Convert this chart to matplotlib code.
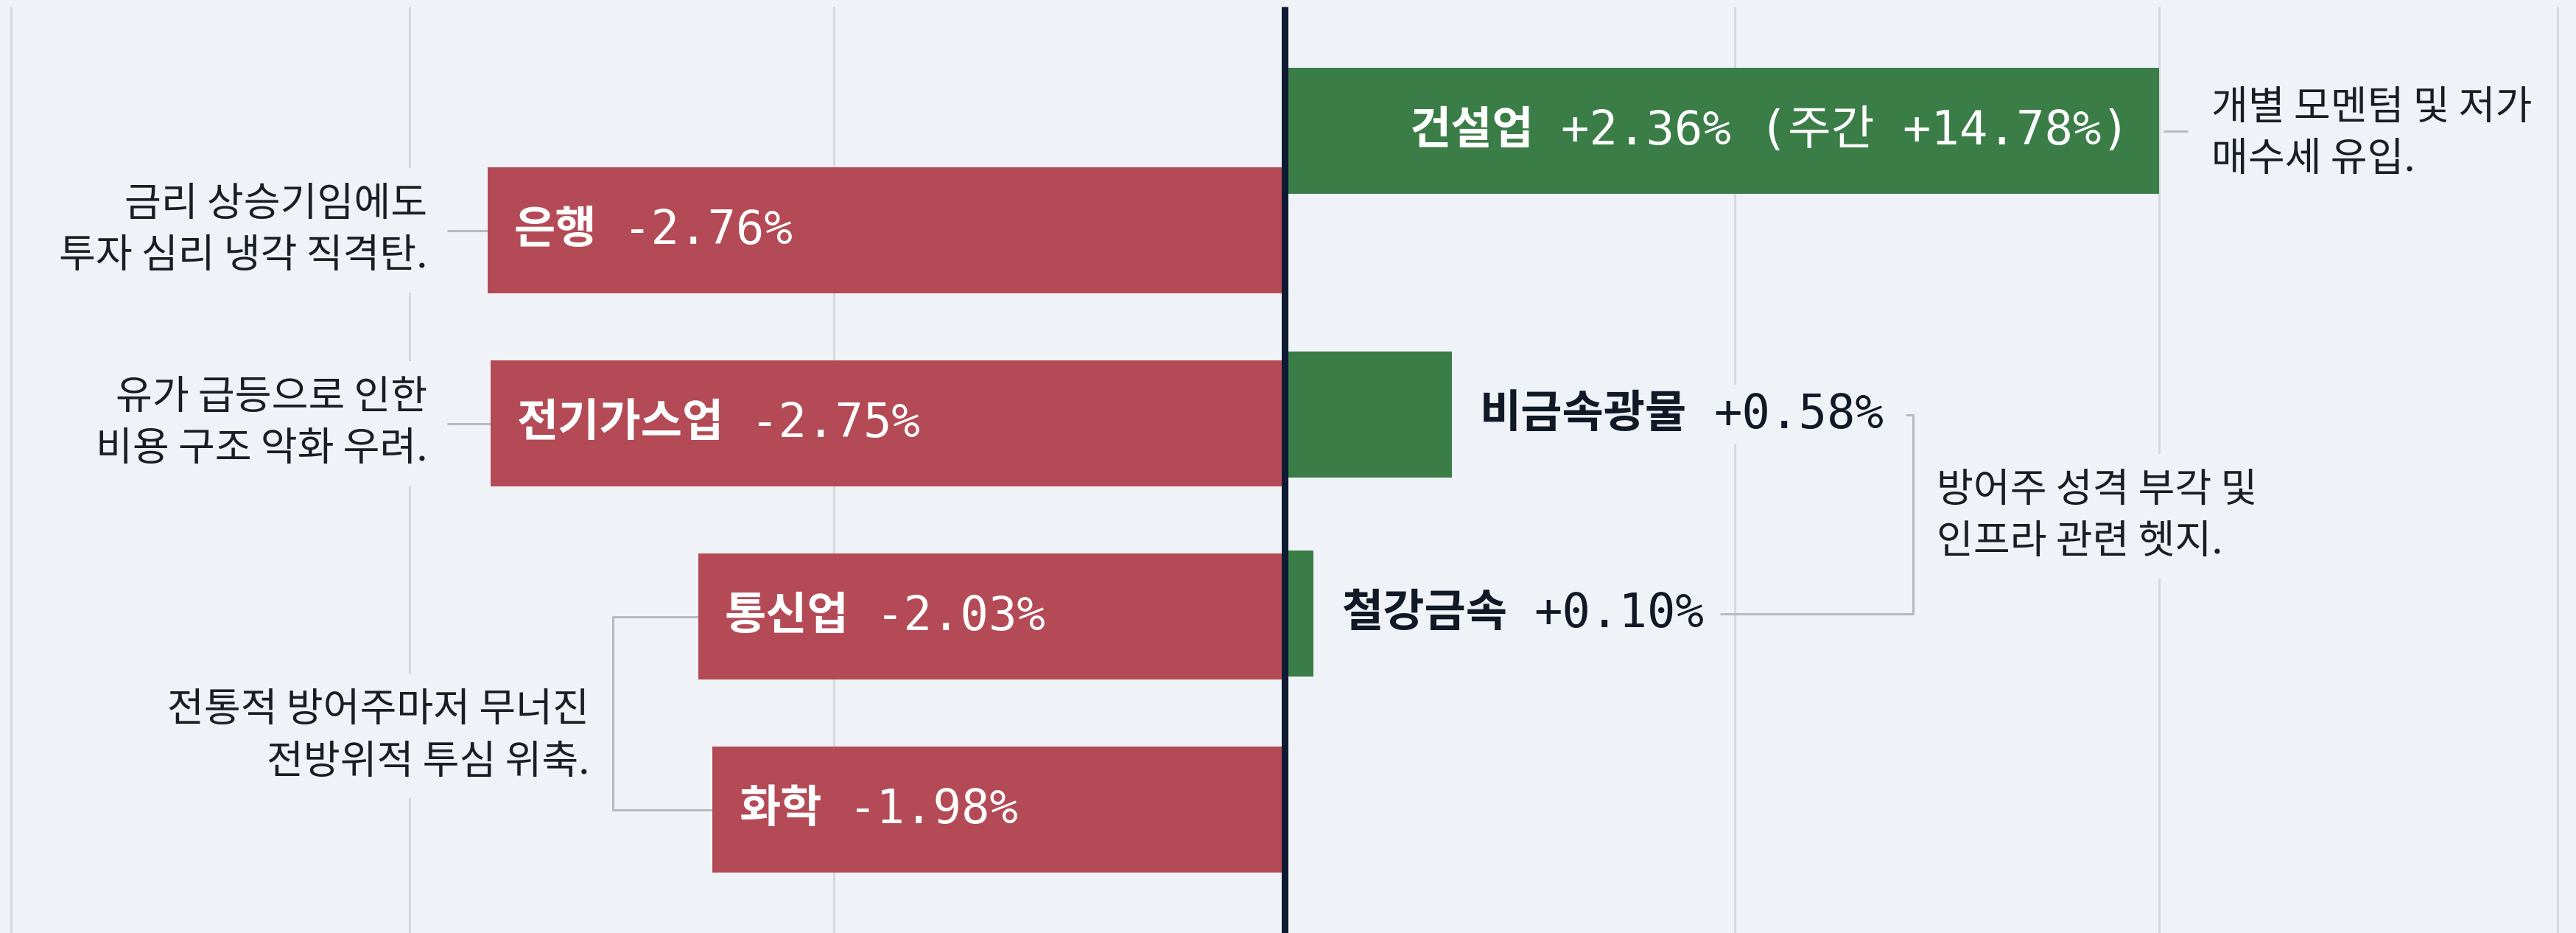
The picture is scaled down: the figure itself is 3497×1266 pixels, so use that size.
import matplotlib.pyplot as plt

# sector moves of the day (%), as printed on the labels
sectors = ['건설업', '은행', '비금속광물', '전기가스업', '철강금속', '통신업', '화학']
changes = [2.36, -2.76, 0.58, -2.75, 0.10, -2.03, -1.98]
extra = ['(주간 +14.78%)', '', '', '', '', '', '']
# bar length as drawn: the 건설업 bar runs out to the 3% grid line to hold its long label
bar_len = [3.03, -2.76, 0.58, -2.75, 0.10, -2.03, -1.98]

notes = ['개별 모멘텀 및 저가\n매수세 유입.',
         '금리 상승기임에도\n투자 심리 냉각 직격탄.',
         '유가 급등으로 인한\n비용 구조 악화 우려.',
         '전통적 방어주마저 무너진\n전방위적 투심 위축.',
         '방어주 성격 부각 및\n인프라 관련 헷지.']

# layout
rows = [-0.515, 0, 0.954, 1.0, 1.985, 2.0, 3.0]
grid_x = [-4.41, -3.03, -1.56, 1.56, 3.03, 4.41]
PX = 1 / 392.0   # data units per pixel

BG = '#eff3f7'
RED = '#b44a55'
GREEN = '#3a7d47'
NAVY = '#0e1b33'
GRID = '#d4d9df'
LEAD = '#b6bbc2'
INK = '#191d25'
KR = ['Noto Sans CJK KR', 'DejaVu Sans']
MONO = ['DejaVu Sans Mono', 'Noto Sans CJK KR']
FS_NAME = 44
FS_NUM = 46
FS_NOTE = 39

fig = plt.figure(figsize=(34.98, 12.66), dpi=100)
fig.patch.set_facecolor(BG)
ax = fig.add_axes([0, 0, 1, 1])
ax.set_facecolor(BG)
ax.set_xlim(-4.448, 4.476)
ax.set_ylim(3.639, -1.193)
ax.axis('off')

ax.vlines(grid_x, -1.16, 3.64, color=GRID, lw=2.2, zorder=0)
colors = [GREEN if v > 0 else RED for v in changes]
ax.barh(rows, bar_len, height=0.653, color=colors, zorder=2)
ax.vlines(0, -1.16, 3.64, color=NAVY, lw=6.5, zorder=5)

# bar labels: bold sector name + mono number
for name, v, ex, L, y in zip(sectors, changes, extra, bar_len, rows):
    num = f'{v:+.2f}%' + (' ' + ex if ex else '')
    if L < 0:
        t = ax.text(L + 36 * PX, y, name, color='white', fontsize=FS_NAME, family=KR,
                    weight='bold', ha='left', va='center', zorder=6)
        ax.annotate(num, xy=(1, 0.5), xycoords=t, xytext=(26, 0), textcoords='offset points',
                    color='white', fontsize=FS_NUM, family=MONO, ha='left', va='center', zorder=6)
    elif L > 1:
        t = ax.text(L - 40 * PX, y, num, color='white', fontsize=FS_NUM, family=MONO,
                    ha='right', va='center', zorder=6)
        ax.annotate(name, xy=(0, 0.5), xycoords=t, xytext=(-26, 0), textcoords='offset points',
                    color='white', fontsize=FS_NAME, family=KR, weight='bold',
                    ha='right', va='center', zorder=6)
    else:
        box = dict(boxstyle='square,pad=0.15', fc=BG, ec='none')
        t = ax.text(L + 38 * PX, y, name, color='#111826', fontsize=FS_NAME, family=KR,
                    weight='bold', ha='left', va='center', zorder=6, bbox=box)
        ax.annotate(num, xy=(1, 0.5), xycoords=t, xytext=(26, 0), textcoords='offset points',
                    color='#111826', fontsize=FS_NUM, family=MONO, ha='left', va='center',
                    zorder=6, bbox=box)

# side notes
note_pos = [(3.21, -0.50, 'left'), (-2.968, 0.0, 'right'), (-2.968, 1.0, 'right'),
            (-2.407, 2.62, 'right'), (2.259, 1.48, 'left')]
for txt, (x, y, ha) in zip(notes, note_pos):
    ax.text(x, y, txt, fontsize=FS_NOTE, family=KR, color=INK, ha=ha, va='center',
            linespacing=1.35, zorder=6,
            bbox=dict(boxstyle='square,pad=0.4', fc=BG, ec='none'))

# leader lines and brackets
lk = dict(color=LEAD, lw=2.2, zorder=1, solid_capstyle='butt')
ax.plot([3.045, 3.129], [rows[0], rows[0]], **lk)
ax.plot([-2.899, bar_len[1]], [rows[1], rows[1]], **lk)
ax.plot([-2.899, bar_len[3]], [rows[3], rows[3]], **lk)
ax.plot([bar_len[5], -2.326, -2.326, bar_len[6]], [rows[5], rows[5], rows[6], rows[6]], **lk)
ax.plot([2.152, 2.177, 2.177, 1.509], [rows[2], rows[2], rows[4], rows[4]], **lk)

fig.savefig('out.png', dpi=100, facecolor=BG)
